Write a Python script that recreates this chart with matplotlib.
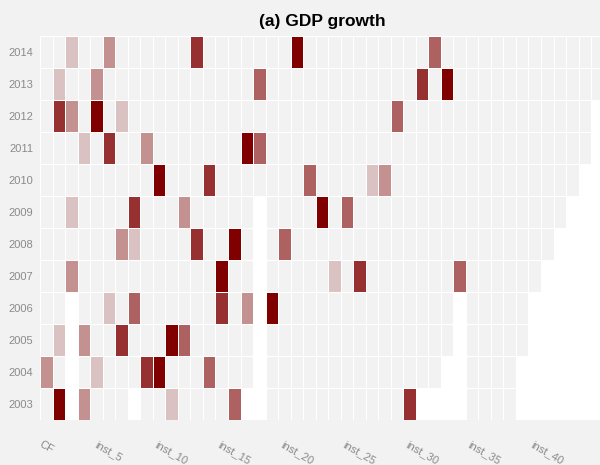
import numpy as np
import matplotlib.pyplot as plt
from matplotlib.colors import ListedColormap, BoundaryNorm

plt.rcParams['font.family'] = ['Liberation Sans', 'DejaVu Sans']

# rows (bottom to top) and how many columns each year has
years = [2003, 2004, 2005, 2006, 2007, 2008, 2009, 2010, 2011, 2012, 2013, 2014]
n_cols = [38, 38, 39, 39, 40, 41, 42, 43, 44, 44, 45, 45]
col_labels = ["CF"] + ["inst_%d" % i for i in range(1, 45)]

# column index of the 1st..5th ranked institution per year (same order as years)
rank_1 = [1, 9, 10, 18, 14, 15, 22, 9, 16, 4, 32, 20]
rank_2 = [29, 8, 6, 14, 25, 12, 7, 13, 5, 1, 30, 12]
rank_3 = [15, 13, 11, 7, 33, 19, 24, 21, 17, 28, 17, 31]
rank_4 = [3, 0, 3, 16, 2, 6, 11, 27, 8, 2, 4, 5]
rank_5 = [10, 4, 1, 5, 23, 7, 2, 26, 3, 6, 1, 2]

# cells with no data (year, column)
missing = [(2003, 2), (2004, 2), (2005, 2), (2006, 2), (2003, 7), (2003, 16),
           (2003, 17), (2004, 17), (2005, 17), (2006, 17), (2007, 17), (2008, 17), (2009, 17),
           (2003, 30), (2003, 31), (2003, 32), (2004, 32),
           (2003, 33), (2004, 33), (2005, 33), (2006, 33)]

grid = np.full((len(years), len(col_labels)), np.nan)
for i, n in enumerate(n_cols):
    grid[i, :n] = 0
for y, c in missing:
    grid[years.index(y), c] = np.nan
for score, ranks in zip([5, 4, 3, 2, 1], [rank_1, rank_2, rank_3, rank_4, rank_5]):
    for i, c in enumerate(ranks):
        grid[i, c] = score

# maroon faded onto the light gray, 1st rank darkest
bg = np.array([242, 242, 242]) / 255
maroon = np.array([128, 0, 0]) / 255
colors = [bg] + [a * maroon + (1 - a) * bg for a in [0.2, 0.4, 0.6, 0.8, 1.0]]
cmap = ListedColormap(colors)
norm = BoundaryNorm(np.arange(-0.5, 6.5, 1), cmap.N)

fig = plt.figure(figsize=(6, 4.65), dpi=100, facecolor='#f2f2f2')
ax = fig.add_axes([0.067, 0.0968, 0.939, 0.8258])
ax.set_facecolor('white')
ax.pcolormesh(np.ma.masked_invalid(grid), cmap=cmap, norm=norm,
              edgecolors='white', linewidth=0.7)

ax.set_xlim(0, len(col_labels))
ax.set_ylim(0, len(years))
ax.set_yticks(np.arange(len(years)) + 0.5)
ax.set_yticklabels(years)
ax.set_xticks(np.arange(0, len(col_labels), 5) + 0.5)
ax.set_xticklabels(col_labels[::5], rotation=-30, ha='center')
ax.tick_params(axis='both', length=0, colors='#8a8a8a', labelsize=8)
ax.tick_params(axis='y', pad=5)
ax.tick_params(axis='x', pad=14)
for s in ax.spines.values():
    s.set_visible(False)

ax.set_title("(a) GDP growth", fontsize=12.5, fontweight='bold', pad=7)

fig.savefig('out.png', dpi=100, facecolor=fig.get_facecolor())
